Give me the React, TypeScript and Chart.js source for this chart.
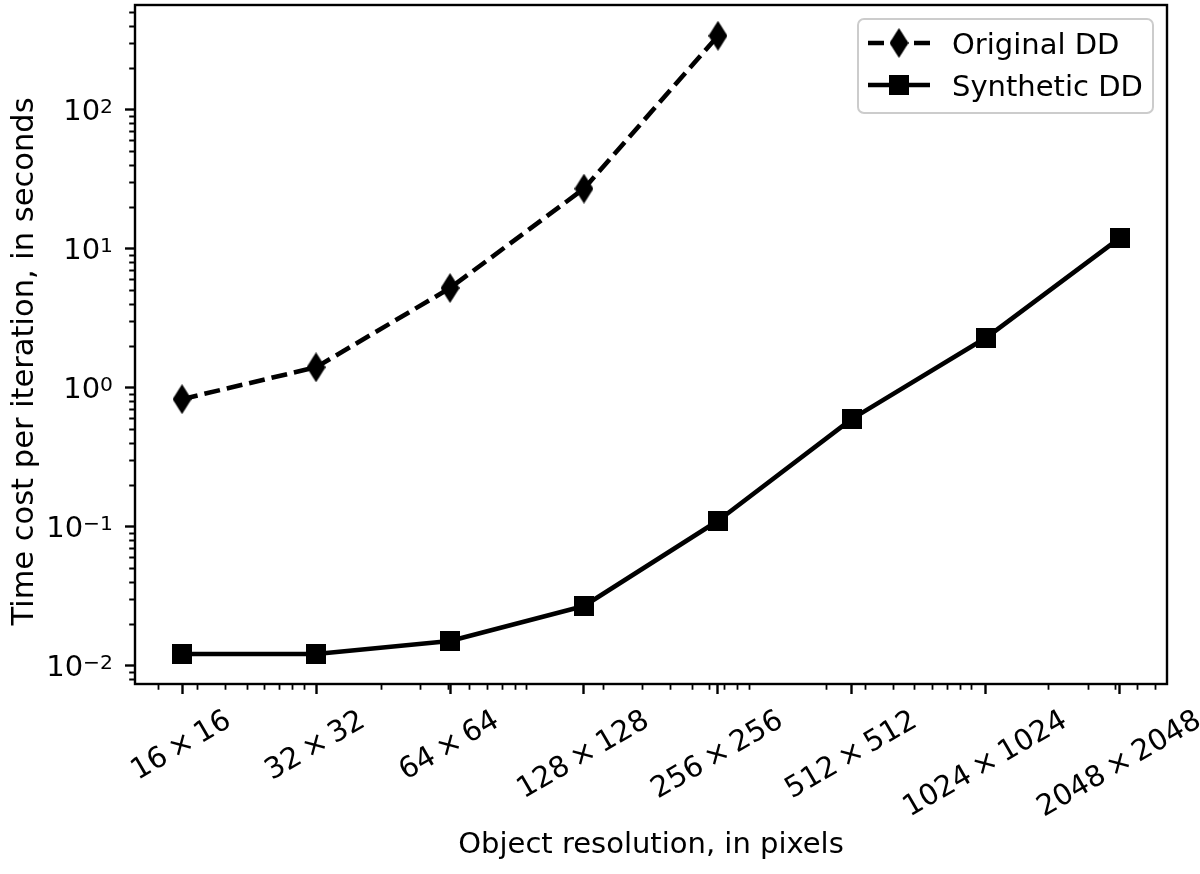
import React, { useEffect, useRef } from 'react';
import { Chart, registerables } from 'chart.js';

Chart.register(...registerables);

// ---- data ----
const PIXEL_COUNTS = [256, 1024, 4096, 16384, 65536, 262144, 1048576, 4194304];
const X_TICK_LABELS = [
  '16\u2009×\u200916',
  '32\u2009×\u200932',
  '64\u2009×\u200964',
  '128\u2009×\u2009128',
  '256\u2009×\u2009256',
  '512\u2009×\u2009512',
  '1024\u2009×\u20091024',
  '2048\u2009×\u20092048',
];
const ORIGINAL_DD = [0.825, 1.4, 5.2, 27, 340];
const SYNTHETIC_DD = [0.0121, 0.0121, 0.015, 0.0268, 0.11, 0.595, 2.28, 11.96];
const Y_TICKS = [0.01, 0.1, 1, 10, 100];
const Y_TICK_BASE = '10';
const Y_TICK_EXPONENTS = ['\u22122', '\u22121', '0', '1', '2'];
const SERIES_LABELS = ['Original DD', 'Synthetic DD'];
const X_TITLE = 'Object resolution, in pixels';
const Y_TITLE = 'Time cost per iteration, in seconds';

const X_MIN = 157.4;
const X_MAX = 6.823e6;
const Y_MIN = 0.00736;
const Y_MAX = 566;

const FONT = '"DejaVu Sans", Verdana, sans-serif';
const FS = 29;
const FS_SUP = 20.3;
const FS_YTITLE = 30.5;

function minorTicks(min: number, max: number): number[] {
  const out: number[] = [];
  for (let e = Math.floor(Math.log10(min)); e <= Math.ceil(Math.log10(max)); e++) {
    for (let s = 2; s <= 9; s++) {
      const v = s * Math.pow(10, e);
      if (v >= min && v <= max) out.push(v);
    }
  }
  return out;
}

function makeDiamond(): HTMLCanvasElement {
  const c = document.createElement('canvas');
  c.width = 19;
  c.height = 30;
  const g = c.getContext('2d')!;
  g.fillStyle = '#000';
  g.beginPath();
  g.moveTo(9.5, 0);
  g.lineTo(19, 15);
  g.lineTo(9.5, 30);
  g.lineTo(0, 15);
  g.closePath();
  g.fill();
  return c;
}

function makeSquare(): HTMLCanvasElement {
  const c = document.createElement('canvas');
  c.width = 20;
  c.height = 20;
  const g = c.getContext('2d')!;
  g.fillStyle = '#000';
  g.fillRect(0, 0, 20, 20);
  return c;
}

const decorPlugin = {
  id: 'mplDecor',
  afterDraw(chart: any) {
    const ctx: CanvasRenderingContext2D = chart.ctx;
    const area = chart.chartArea;
    const xs = chart.scales.x;
    const ys = chart.scales.y;
    ctx.save();
    // minor ticks
    ctx.strokeStyle = '#000';
    ctx.lineWidth = 1.8;
    ctx.beginPath();
    minorTicks(X_MIN, X_MAX).forEach((v) => {
      const p = Math.round(xs.getPixelForValue(v)) + 0.5;
      ctx.moveTo(p, area.bottom);
      ctx.lineTo(p, area.bottom + 5.8);
    });
    minorTicks(Y_MIN, Y_MAX).forEach((v) => {
      const p = Math.round(ys.getPixelForValue(v)) + 0.5;
      ctx.moveTo(area.left, p);
      ctx.lineTo(area.left - 5.8, p);
    });
    ctx.stroke();

    // spines
    ctx.lineWidth = 2.4;
    ctx.strokeRect(area.left, area.top, area.right - area.left, area.bottom - area.top);

    ctx.fillStyle = '#000';

    // y tick labels: 10 with superscript exponent, right aligned
    const right = area.left - 22;
    Y_TICKS.forEach((v, i) => {
      const py = ys.getPixelForValue(v);
      const exp = Y_TICK_EXPONENTS[i];
      ctx.font = `${FS_SUP}px ${FONT}`;
      const we = ctx.measureText(exp).width;
      ctx.font = `${FS}px ${FONT}`;
      const wb = ctx.measureText(Y_TICK_BASE).width;
      const baseline = py + 10.8;
      ctx.textAlign = 'left';
      ctx.textBaseline = 'alphabetic';
      ctx.fillText(Y_TICK_BASE, right - we - wb, baseline);
      ctx.font = `${FS_SUP}px ${FONT}`;
      ctx.fillText(exp, right - we, baseline - 7);
    });

    // y title
    ctx.save();
    ctx.font = `${FS_YTITLE}px ${FONT}`;
    ctx.translate(33, 361.5);
    ctx.rotate(-Math.PI / 2);
    ctx.textAlign = 'center';
    ctx.textBaseline = 'alphabetic';
    ctx.fillText(Y_TITLE, 0, 0);
    ctx.restore();

    // x tick labels, rotated 30 deg, centred on tick
    ctx.font = `${FS}px ${FONT}`;
    const a = Math.PI / 6;
    const capH = 0.73 * FS;
    PIXEL_COUNTS.forEach((v, i) => {
      const px = xs.getPixelForValue(v);
      const label = X_TICK_LABELS[i];
      const w = ctx.measureText(label).width;
      const H = w * Math.sin(a) + capH * Math.cos(a);
      const cy = area.bottom + 23 + H / 2;
      ctx.save();
      ctx.translate(px - 2, cy);
      ctx.rotate(-a);
      ctx.textAlign = 'center';
      ctx.textBaseline = 'alphabetic';
      ctx.fillText(label, 0, capH / 2);
      ctx.restore();
    });

    // legend
    const bx = 858, by = 19, bw = 295, bh = 94, r = 6;
    ctx.beginPath();
    ctx.moveTo(bx + r, by);
    ctx.lineTo(bx + bw - r, by);
    ctx.arcTo(bx + bw, by, bx + bw, by + r, r);
    ctx.lineTo(bx + bw, by + bh - r);
    ctx.arcTo(bx + bw, by + bh, bx + bw - r, by + bh, r);
    ctx.lineTo(bx + r, by + bh);
    ctx.arcTo(bx, by + bh, bx, by + bh - r, r);
    ctx.lineTo(bx, by + r);
    ctx.arcTo(bx, by, bx + r, by, r);
    ctx.closePath();
    ctx.fillStyle = 'rgba(255,255,255,0.8)';
    ctx.fill();
    ctx.strokeStyle = '#cccccc';
    ctx.lineWidth = 2;
    ctx.stroke();

    ctx.font = `${FS}px ${FONT}`;
    chart.data.datasets.forEach((ds: any, i: number) => {
      const y = 43 + i * 42;
      ctx.strokeStyle = ds.borderColor;
      ctx.lineWidth = ds.borderWidth;
      ctx.lineCap = 'butt';
      ctx.setLineDash(ds.borderDash || []);
      ctx.beginPath();
      ctx.moveTo(868, y);
      ctx.lineTo(930, y);
      ctx.stroke();
      ctx.setLineDash([]);
      const img = ds.pointStyle as HTMLCanvasElement;
      ctx.drawImage(img, 899 - img.width / 2, y - img.height / 2);
      ctx.fillStyle = '#000';
      ctx.textAlign = 'left';
      ctx.textBaseline = 'alphabetic';
      ctx.fillText(ds.label, 952, y + 10.5);
    });
    ctx.restore();
  },
};

export default function App() {
  const ref = useRef<HTMLCanvasElement | null>(null);

  useEffect(() => {
    const canvas = ref.current;
    if (!canvas) return;
    const diamond = makeDiamond();
    const square = makeSquare();

    const chart = new Chart(canvas, {
      type: 'line',
      data: {
        datasets: [
          {
            label: SERIES_LABELS[0],
            data: ORIGINAL_DD.map((y, i) => ({ x: PIXEL_COUNTS[i], y })),
            borderColor: '#000',
            backgroundColor: '#000',
            borderWidth: 4.6,
            borderDash: [16, 7],
            borderCapStyle: 'butt',
            borderJoinStyle: 'round',
            pointStyle: diamond,
            pointRadius: 10,
            tension: 0,
            fill: false,
          } as any,
          {
            label: SERIES_LABELS[1],
            data: SYNTHETIC_DD.map((y, i) => ({ x: PIXEL_COUNTS[i], y })),
            borderColor: '#000',
            backgroundColor: '#000',
            borderWidth: 4.6,
            borderCapStyle: 'butt',
            borderJoinStyle: 'round',
            pointStyle: square,
            pointRadius: 10,
            tension: 0,
            fill: false,
          } as any,
        ],
      },
      options: {
        responsive: false,
        animation: false,
        devicePixelRatio: 1,
        layout: { autoPadding: false, padding: { top: 5, right: 33, left: 0, bottom: 0 } },
        plugins: {
          legend: { display: false },
          tooltip: { enabled: false },
        },
        scales: {
          x: {
            type: 'logarithmic',
            min: X_MIN,
            max: X_MAX,
            bounds: 'data',
            afterBuildTicks: (s: any) => {
              s.ticks = PIXEL_COUNTS.map((v) => ({ value: v }));
            },
            afterFit: (s: any) => {
              s.height = 190;
              s.paddingLeft = 0;
              s.paddingRight = 0;
            },
            ticks: { display: false, autoSkip: false },
            grid: {
              drawOnChartArea: false,
              drawTicks: true,
              tickLength: 10,
              tickWidth: 2.4,
              tickColor: '#000',
            },
            border: { display: false },
            title: {
              display: true,
              text: X_TITLE,
              color: '#000',
              font: { family: FONT, size: FS },
              padding: { top: 0, bottom: 11 },
            },
          },
          y: {
            type: 'logarithmic',
            min: Y_MIN,
            max: Y_MAX,
            bounds: 'data',
            afterBuildTicks: (s: any) => {
              s.ticks = Y_TICKS.map((v) => ({ value: v }));
            },
            afterFit: (s: any) => {
              s.width = 135;
              s.paddingTop = 0;
              s.paddingBottom = 0;
            },
            ticks: { display: false, autoSkip: false },
            grid: {
              drawOnChartArea: false,
              drawTicks: true,
              tickLength: 10,
              tickWidth: 2.4,
              tickColor: '#000',
            },
            border: { display: false },
            title: { display: false, text: Y_TITLE },
          },
        },
      } as any,
      plugins: [decorPlugin],
    });

    return () => chart.destroy();
  }, []);

  return (
    <div style={{ position: 'fixed', left: 0, top: 0, width: 1200, height: 874, background: '#fff' }}>
      <canvas ref={ref} width={1200} height={874} style={{ display: 'block' }} />
    </div>
  );
}
